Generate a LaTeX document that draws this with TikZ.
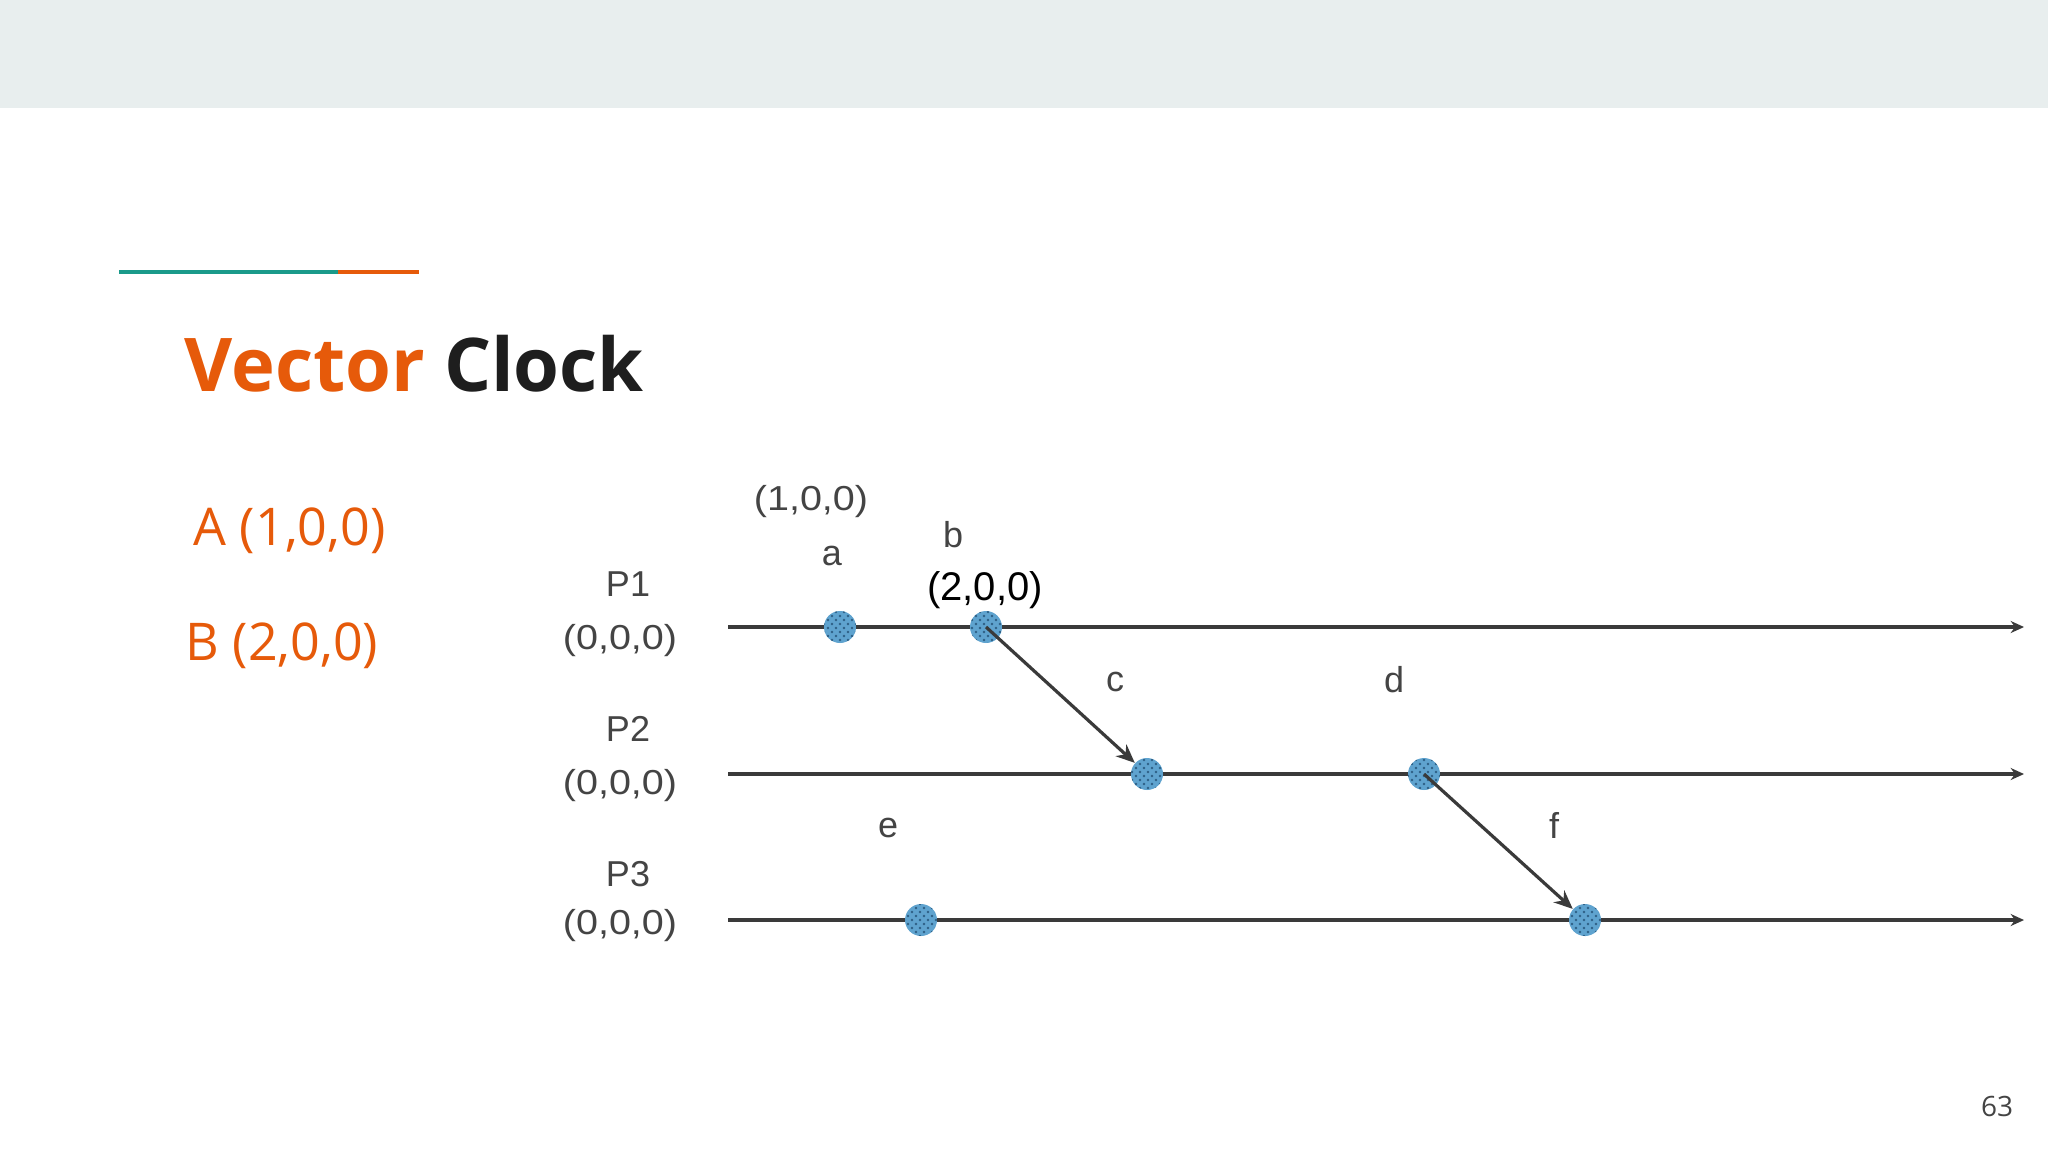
\documentclass[tikz,border=0pt]{standalone}
\usepackage{fontspec}
\setmainfont{Liberation Sans}
\newfontfamily\opensans{Open Sans}
\usetikzlibrary{patterns,arrows.meta}
\definecolor{band}{HTML}{E8EEEE}
\definecolor{accent}{HTML}{E65A0A}
\definecolor{teal}{HTML}{1A9A8A}
\definecolor{labelgray}{HTML}{444444}
\definecolor{linegray}{HTML}{3A3A3A}
\definecolor{dotblue}{HTML}{5FA3CF}
\definecolor{dotdark}{HTML}{2E5F86}
\newcommand{\wide}[1]{\scalebox{1.14}[1]{#1}}
\tikzset{
  evt/.style={circle, inner sep=0pt, minimum size=12pt, fill=dotblue,
    postaction={pattern=crosshatch dots, pattern color=dotdark}},
  lbl/.style={text=labelgray, font=\fontsize{13.5}{15}\selectfont, inner sep=0pt},
  vec/.style={text=labelgray, font=\fontsize{13}{15}\selectfont, inner sep=0pt},
  timeline/.style={draw=linegray, line width=1.4pt, -{Stealth[length=5pt,width=4.5pt]}},
  msg/.style={draw=linegray, line width=1.2pt, -{Stealth[length=7pt,width=6pt]}},
  side/.style={text=accent, font=\opensans\fontsize{19.5}{22}\selectfont, inner sep=0pt, anchor=base west}
}
\begin{document}
\begin{tikzpicture}[x=0.375pt, y=-0.375pt]
\useasboundingbox (0,0) rectangle (2048,1152);
\fill[white] (0,0) rectangle (2048,1152);
\fill[band] (0,0) rectangle (2048,108);
% accent line
\draw[teal, line width=1.5pt] (119,272) -- (338,272);
\draw[accent, line width=1.5pt] (338,272) -- (419,272);
% title
\node[anchor=base west, inner sep=0pt, font=\opensans\bfseries\fontsize{27.8}{32}\selectfont] (title) at (184,391)
  {\textcolor{accent}{Vector} \textcolor[HTML]{1E1E1E}{Clock}};
% side notes
\node[side] (A) at (193,545) {A (1,0,0)};
\node[side] (B) at (185,660) {B (2,0,0)};
% timelines
\coordinate (s1) at (728,627); \coordinate (e1) at (2024,627);
\coordinate (s2) at (728,774); \coordinate (e2) at (2024,774);
\coordinate (s3) at (728,920); \coordinate (e3) at (2024,920);
\draw[timeline] (s1) -- (e1);
\draw[timeline] (s2) -- (e2);
\draw[timeline] (s3) -- (e3);
% process labels
\node[lbl] (p1) at (628,584) {P1};
\node[vec] (p1v) at (620,641) {\wide{(0,0,0)}};
\node[lbl] (p2) at (628,729) {P2};
\node[vec] (p2v) at (620,786) {\wide{(0,0,0)}};
\node[lbl] (p3) at (628,874) {P3};
\node[vec] (p3v) at (620,926) {\wide{(0,0,0)}};
% events
\node[evt] (a) at (840,627) {};
\node[evt] (b) at (986,627) {};
\node[evt] (c) at (1147,774) {};
\node[evt] (d) at (1424,774) {};
\node[evt] (e) at (921,920) {};
\node[evt] (f) at (1585,920) {};
% messages
\draw[msg] (b.center) -- (c);
\draw[msg] (d.center) -- (f);
% event labels
\node[vec] (av) at (811,502) {\wide{(1,0,0)}};
\node[lbl] (al) at (832,556) {a};
\node[lbl] (bl) at (953,535) {b};
\node[inner sep=0pt, text=black, font=\fontsize{15}{17}\selectfont] (bv) at (985,590) {(2,0,0)};
\node[lbl] (cl) at (1115,682) {c};
\node[lbl] (dl) at (1394,680) {d};
\node[lbl] (el) at (888,828) {e};
\node[lbl] (fl) at (1554,825) {f};
% page number
\node[inner sep=0pt, text=labelgray, font=\opensans\fontsize{10.5}{12}\selectfont] (pg) at (1997,1106) {63};
\end{tikzpicture}
\end{document}
